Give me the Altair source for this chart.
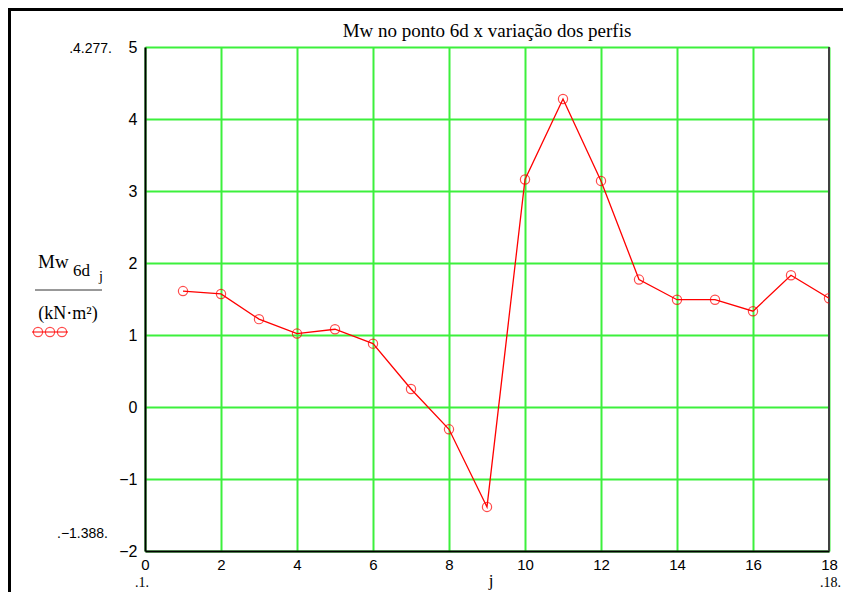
import altair as alt
import pandas as pd

# ---- data ----
j_values = list(range(1, 19))
mw_values = [1.61, 1.57, 1.22, 1.02, 1.08, 0.88, 0.25, -0.31, -1.388,
             3.16, 4.277, 3.14, 1.77, 1.49, 1.49, 1.33, 1.83, 1.51]
x_ticks = [0, 2, 4, 6, 8, 10, 12, 14, 16, 18]
y_ticks = [-2, -1, 0, 1, 2, 3, 4, 5]
title_text = "Mw no ponto 6d x variação dos perfis"
max_label = ".4.277."
min_label = ".\u22121.388."
x_first_label = ".1."
x_last_label = ".18."
x_var_label = "j"
y_main = "Mw"
y_sub = "6d"
y_subsub = "j"
y_unit = "(kN\u00b7m\u00b2)"

W, H = 684, 504
GREEN = "#3cf03c"
RED = "#ff0000"
SERIF = "Liberation Serif"
SANS = "Liberation Sans"

df = pd.DataFrame({"j": j_values, "mw": mw_values})
xs = alt.Scale(domain=[0, 18], nice=False, zero=False)
ys = alt.Scale(domain=[-2, 5], nice=False, zero=False)

base = alt.Chart(df)
line = base.mark_line(color=RED, strokeWidth=1.3, clip=True).encode(
    x=alt.X("j:Q", scale=xs,
            axis=alt.Axis(values=x_ticks, title=None, ticks=False, labelPadding=6,
                          labelFontSize=15,
                          format="d", labelFlush=False, labelOverlap=False, grid=True)),
    y=alt.Y("mw:Q", scale=ys,
            axis=alt.Axis(values=y_ticks, title=None, ticks=False, labelPadding=8,
                          format="d", labelOverlap=False, grid=True)),
)
points = base.mark_point(shape="circle", filled=False, color=RED, size=85,
                         strokeWidth=1.2, clip=True).encode(x="j:Q", y="mw:Q")


def one():
    return alt.Chart(pd.DataFrame({"a": [0]}))


def txt(s, x, y, size, font, align="left", baseline="alphabetic"):
    return alt.Chart(pd.DataFrame({"t": [s]})).mark_text(
        align=align, baseline=baseline, font=font, fontSize=size, color="black"
    ).encode(text="t:N", x=alt.value(x), y=alt.value(y))


def rule(x, x2, y, y2, color, w):
    return one().mark_rule(color=color, strokeWidth=w).encode(
        x=alt.value(x), x2=alt.value(x2), y=alt.value(y), y2=alt.value(y2))


def dot(x, y):
    return one().mark_point(shape="circle", filled=False, color=RED, size=85,
                            strokeWidth=1.2).encode(x=alt.value(x), y=alt.value(y))


layers = [
    # outer frame (left and top edges)
    rule(-135.5, -135.5, -39, 560, "black", 3),
    rule(-137, 720, -37.5, -37.5, "black", 3),
    # right border of plot
    rule(W, W, 0, H, "#404040", 2),
    line,
    points,
    # title
    txt(title_text, W / 2, -10, 19, SERIF, align="center"),
    # min/max range labels
    txt(max_label, -33, 6, 14, SANS, align="right"),
    txt(min_label, -37, 491, 14, SANS, align="right"),
    # y label
    txt(y_main, -107, 221, 19, SERIF),
    txt(y_sub, -72, 229, 17, SERIF),
    txt(y_subsub, -46, 234, 14, SERIF),
    rule(-110, -43, 243, 243, "#333333", 1),
    txt(y_unit, -77, 272, 18, SERIF, align="center"),
    # legend sample
    rule(-113, -77, 285, 285, RED, 1.2),
    dot(-107, 285), dot(-95, 285), dot(-83, 285),
    # bottom labels
    txt(x_first_label, -3, 540, 14, SERIF, align="center"),
    txt(x_var_label, 346, 539, 17, SERIF, align="center"),
    txt(x_last_label, 696, 540, 14, SERIF, align="right"),
]

chart = alt.layer(*layers).properties(
    width=W, height=H,
    padding={"left": 137, "top": 39, "right": 14, "bottom": 41},
    autosize=alt.AutoSizeParams(type="none"),
    background="white",
).configure_view(stroke=None).configure_axis(
    gridColor=GREEN, gridWidth=2, gridOpacity=1,
    domainColor="black", domainWidth=2,
    labelFont=SANS, labelFontSize=16, labelColor="black",
)

chart.save("out.html", embed_options={"renderer": "svg", "actions": False})
